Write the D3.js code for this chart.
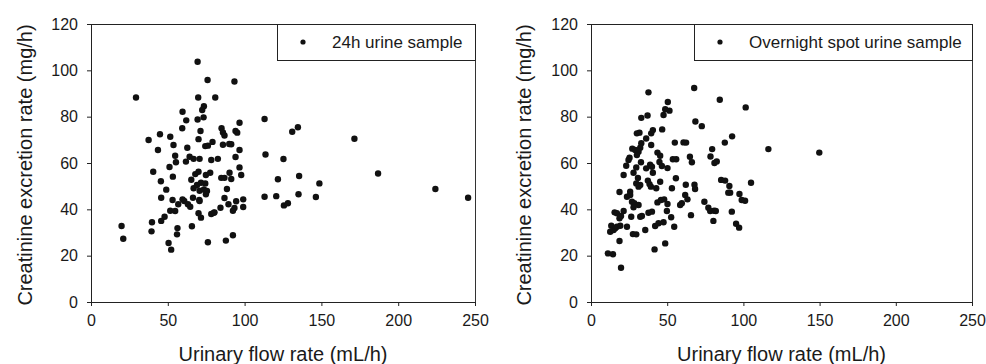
<!DOCTYPE html>
<html><head><meta charset="utf-8">
<script src="https://cdn.jsdelivr.net/npm/d3@7"></script>
<style>body{margin:0;background:#fff}svg{display:block}text{font-family:"Liberation Sans",Arial,sans-serif;fill:#1a1a1a}</style>
</head><body><svg id="c" width="986" height="364"></svg>
<script>
const xTicks = [0, 50, 100, 150, 200, 250];
const yTicks = [0, 20, 40, 60, 80, 100, 120];
const xTitle = "Urinary flow rate (mL/h)";
const yTitle = "Creatinine excretion rate (mg/h)";
const legendLabels = ["24h urine sample", "Overnight spot urine sample"];

// 24h urine sample: [flow, creatinine]
const sample24h = [
[69.4,103.7],[75.9,95.8],[93.4,95.2],[29.3,88.3],[69.8,88.3],[80.9,88.3],[59.6,82.1],[73.5,84.5],[72.4,82.9],[62,78.4],
[69.4,78.8],[73.3,79.7],[96.7,77.4],[113,79],[59.4,75],[71.3,73.8],[85,75],[85.9,73.2],[86.9,71.9],[94.1,73.8],
[95.2,73.1],[37.5,69.9],[44.9,72.4],[51.6,71.3],[70,70.3],[53.7,67.8],[62.7,66.6],[74.4,67.3],[76.1,67.5],[79.1,69.1],
[85.9,67.9],[90,68.2],[91.3,68.1],[43.6,65.6],[96.7,65.6],[113.6,63.7],[54.8,63.1],[55.3,60.3],[61.8,60.6],[64.2,62.7],
[66.8,61.8],[70.7,61.8],[78.3,61.3],[82.6,61.8],[94.1,62.6],[51.1,58.3],[96.7,58.1],[40.5,56.2],[53.3,54.1],[45.5,52.1],
[49,48.5],[45.7,45],[53.1,44],[56.8,42.2],[59.6,44.3],[60.7,43.6],[51.6,39.4],[54.8,39.3],[39.7,34.4],[45.7,35],
[47.9,36.8],[39.4,30.5],[56.3,31.9],[56,29.2],[50.5,25.5],[52.2,22.6],[65.7,32.7],[76.1,25.8],[87.8,26.5],[92.4,28.8],
[19.9,32.8],[21,27.3],[63.1,42.2],[64.6,41.1],[66.4,45],[70.5,44],[70,38.3],[71.6,36.4],[78.3,38],[80,38.5],
[80.4,38.7],[84.3,40.7],[86.9,44.9],[89.5,42.2],[92.4,39.4],[93.4,40.6],[94.5,43.5],[99.1,44.3],[99.1,41],[113,45.4],
[120.6,45.7],[121.7,53],[65.3,52.8],[67.9,55.2],[70,56.2],[66.8,49.1],[69,50.5],[71.6,51.5],[74.4,51.2],[70.7,48],
[73.5,48.6],[75.5,47.9],[74.8,46.5],[74.8,54.8],[77.6,55.8],[84.8,53.6],[86.9,53.6],[90.2,55.8],[91.3,53.1],[88.5,48.8],
[97.8,54.8],[70.7,43.6],[131,73.5],[134.7,75.4],[171.5,70.5],[125.3,61.7],[135.5,54.4],[135.1,46.5],[148.7,51.2],[146.4,45.3],
[125.6,41.7],[128.2,42.6],[186.9,55.5],[224.2,48.8],[245.5,45]
];

// Overnight spot urine sample: [flow, creatinine]
const sampleSpot = [
[37.7,90.5],[67.7,92.4],[84.5,87.3],[101.5,84],[50.4,86.3],[48.7,83.2],[47.6,80.7],[51.5,82.6],[37.1,80.5],[33,79.5],
[68.5,77.9],[72.7,75.9],[46.7,74.5],[40.6,74.2],[39.5,72.8],[31.8,73.1],[30.1,72.8],[36.2,70.6],[92.6,71.5],[87.8,68.8],
[55,68.8],[60.7,68.9],[62.4,68.8],[39.5,67.8],[33,68.5],[32.3,66.6],[31.2,64.9],[27.1,66.2],[29,65.6],[30.1,63.4],
[43.6,64.5],[45.4,63.1],[53.7,61.6],[55.9,61.6],[64.9,62.7],[66.2,60.3],[79.5,66],[78.4,62.8],[81,60],[82.5,60.7],
[116.4,66],[25.3,62.3],[24.6,61.3],[23.1,58.8],[32.8,60.3],[29.7,58.1],[38.8,59.3],[40,58.4],[36.2,57.7],[44.9,60.4],
[46.5,58.7],[50.2,57.8],[27.9,55.8],[40.6,55.8],[21.4,54.8],[30.8,53.5],[29.7,51.2],[32.3,50.5],[31.2,49.8],[37.3,52.4],
[39.3,49.8],[38.4,50.9],[45.4,51.9],[42.8,49.1],[55.7,53.4],[53.1,49.1],[62.2,50.6],[67.9,50.6],[68.3,48.8],[85.4,52.7],
[88,52.4],[90.8,50.1],[91.3,47.2],[90.1,47.2],[97.4,46.6],[98.9,44],[101.1,43.7],[105,51.5],[18.7,47.5],[25.7,47.6],
[23.6,45.4],[25.7,46.2],[26.9,43.3],[28.4,42.6],[31.2,41.9],[27.9,40.9],[21.4,39.3],[15.5,38.7],[17,38.3],[18.7,36.1],
[19.7,37.1],[13.3,32.9],[12.6,30.3],[14.8,31.1],[15.9,31.8],[17,32.5],[19.2,32.9],[18.7,26.3],[11.1,21],[14.4,20.6],
[19.7,14.8],[23.6,32.5],[26.4,36.8],[32.3,36.8],[33.4,37.1],[27.5,29.3],[29.7,29.2],[35.6,31.1],[37.7,38.5],[40,39],
[42.1,32.8],[41.7,22.7],[44.3,34],[47.6,34.4],[43.6,43],[45.9,44],[48,44.3],[50.2,42.3],[49.8,39.3],[52.6,36.6],
[48.7,25.3],[54.6,32.5],[58.5,41.9],[59.6,42.6],[61.8,46.2],[63.3,44.3],[65.6,37.5],[74.4,43.3],[77,40.7],[78.2,39.3],
[80.8,39.4],[81.9,39.3],[80.3,35],[92.4,39],[95.2,33.8],[97.2,32.1],[149.8,64.5]
];

const svg = d3.select("#c");
const plotTop = 24, plotBottom = 302;
const panels = [
  {x0: 91, x1: 475, data: sample24h, label: legendLabels[0], legX: 277, ytx: 25},
  {x0: 591, x1: 972, data: sampleSpot, label: legendLabels[1], legX: 694, ytx: 524}
];
panels.forEach(p => {
  const g = svg.append("g");
  const x = d3.scaleLinear().domain([0, 250]).range([p.x0, p.x1]);
  const y = d3.scaleLinear().domain([0, 120]).range([plotBottom, plotTop]);
  g.append("line").attr("x1", p.x0).attr("x2", p.x1).attr("y1", plotTop + 0.5).attr("y2", plotTop + 0.5).attr("stroke", "#222");
  g.append("line").attr("x1", p.x1 + 0.5).attr("x2", p.x1 + 0.5).attr("y1", plotTop).attr("y2", plotBottom).attr("stroke", "#333");
  const xa = g.append("g").attr("transform", `translate(0,${plotBottom})`)
    .call(d3.axisBottom(x).tickValues(xTicks).tickSize(4).tickSizeOuter(0).tickPadding(9).tickFormat(d3.format("d")));
  const ya = g.append("g").attr("transform", `translate(${p.x0},0)`)
    .call(d3.axisLeft(y).tickValues(yTicks).tickSize(4).tickSizeOuter(0).tickPadding(9).tickFormat(d3.format("d")));
  [xa, ya].forEach(a => {
    a.selectAll("path,line").attr("stroke", "#222");
    a.selectAll("text").attr("font-size", 16).attr("fill", "#1a1a1a").style("font-family", '"Liberation Sans",Arial,sans-serif');
  });
  g.append("g").selectAll("circle").data(p.data).join("circle")
    .attr("cx", d => x(d[0])).attr("cy", d => y(d[1])).attr("r", 3.2).attr("fill", "#111");
  g.append("text").attr("x", (p.x0 + p.x1) / 2).attr("y", 361).attr("text-anchor", "middle")
    .attr("font-size", 20).text(xTitle);
  g.append("text").attr("transform", `translate(${p.ytx},${(plotTop + plotBottom) / 2 + 2}) rotate(-90)`)
    .attr("text-anchor", "middle").attr("dominant-baseline", "central").attr("font-size", 20).text(yTitle);
  g.append("rect").attr("x", p.legX + 0.5).attr("y", plotTop + 0.5).attr("width", p.x1 - p.legX).attr("height", 36)
    .attr("fill", "#fff").attr("stroke", "#222");
  g.append("circle").attr("cx", p.legX + 26).attr("cy", plotTop + 18).attr("r", 2.6).attr("fill", "#111");
  g.append("text").attr("x", p.legX + 55).attr("y", plotTop + 24).attr("font-size", 17).text(p.label);
});
</script></body></html>
